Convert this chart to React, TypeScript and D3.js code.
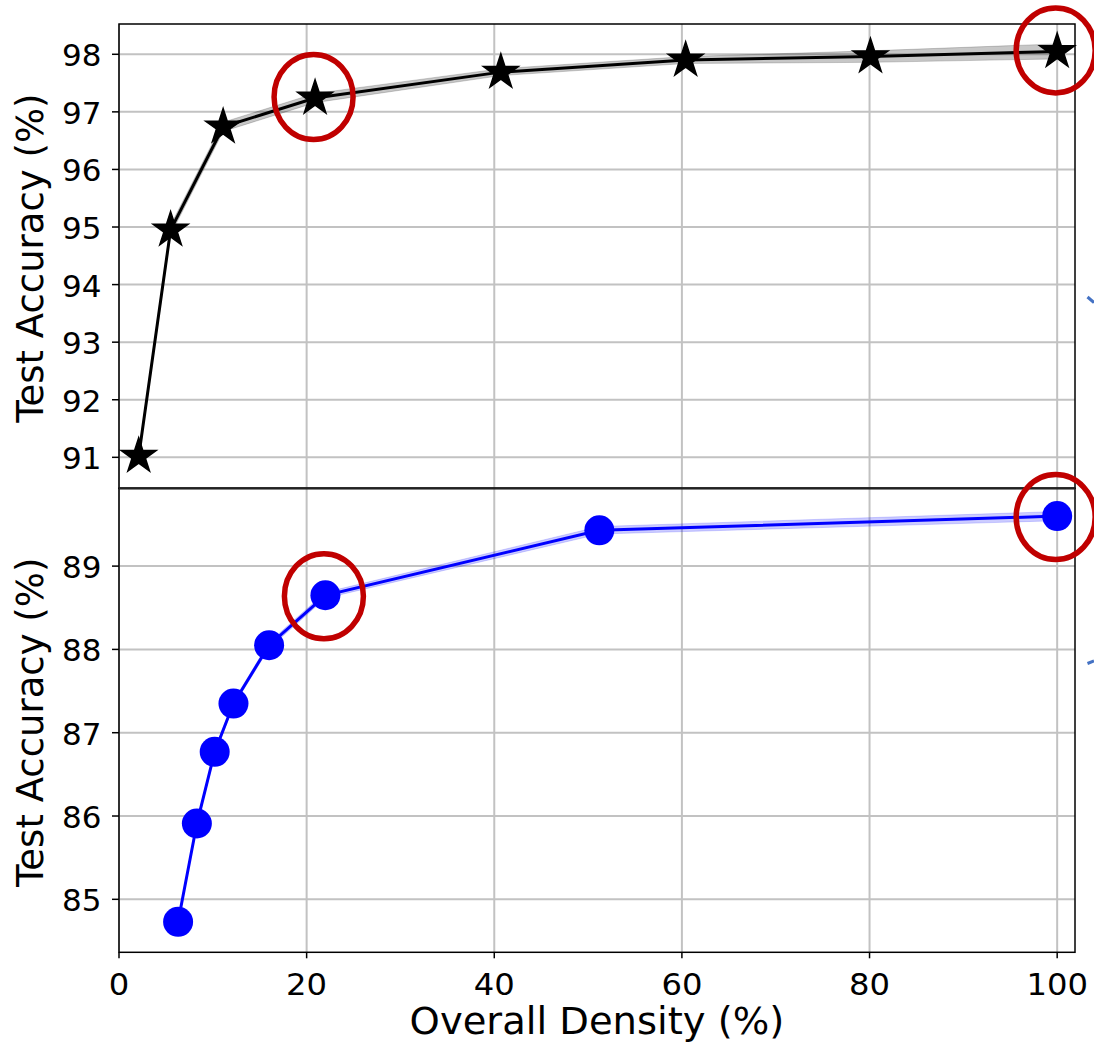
import React from "react";
import * as d3 from "d3";

// ---- data ----
const xTicks = [0, 20, 40, 60, 80, 100];
const topYTicks = [91, 92, 93, 94, 95, 96, 97, 98];
const bottomYTicks = [85, 86, 87, 88, 89];

const topDensity = [2.1, 5.5, 11.1, 20.9, 40.7, 60.4, 80.1, 100];
const topAcc = [91.02, 94.95, 96.74, 97.24, 97.69, 97.9, 97.96, 98.05];
const topStd = [0.05, 0.08, 0.08, 0.08, 0.06, 0.06, 0.1, 0.13];
const topHighlight = [3, 7];

const botDensity = [6.3, 8.3, 10.2, 12.2, 16.0, 22.0, 51.2, 100];
const botAcc = [84.73, 85.91, 86.77, 87.35, 88.05, 88.65, 89.43, 89.6];
const botStd = [0.025, 0.025, 0.03, 0.03, 0.035, 0.035, 0.045, 0.055];
const botHighlight = [5, 7];

const yLabel = "Test Accuracy (%)";
const xLabel = "Overall Density (%)";

// ---- layout ----
const W = 1094;
const H = 1044;
const L = 119;
const R = 1075;
const T1 = 24;
const MID = 488.3;
const B2 = 952.3;
const FONT = "DejaVu Sans, sans-serif";
const TICK_FS = 31;
const LABEL_FS = 37;

const x = d3.scaleLinear().domain([0, 101.9]).range([L, R]);
const yTop = d3.scaleLinear().domain([90.462, 98.526]).range([MID, T1]);
const yBot = d3.scaleLinear().domain([84.364, 89.934]).range([B2, MID]);

function Panel({ xs, ys, sd, y, ticks, top, bottom, color, band, bandOpacity, marker }: any) {
  const idx = xs.map((_: number, i: number) => i);
  const line = d3.line<number>().x((i) => x(xs[i])).y((i) => y(ys[i]));
  const area = d3
    .area<number>()
    .x((i) => x(xs[i]))
    .y0((i) => y(ys[i] - sd[i]))
    .y1((i) => y(ys[i] + sd[i]));
  const star = d3.symbol(d3.symbolStar, 380)();
  return (
    <g>
      {ticks.map((t: number) => (
        <line key={"gy" + t} x1={L} x2={R} y1={y(t)} y2={y(t)} stroke="#c2c2c2" strokeWidth={2} />
      ))}
      {xTicks.map((t) => (
        <line key={"gx" + t} x1={x(t)} x2={x(t)} y1={top} y2={bottom} stroke="#c2c2c2" strokeWidth={2} />
      ))}
      <path d={area(idx) || ""} fill={band} fillOpacity={bandOpacity} stroke={band} strokeOpacity={bandOpacity * 0.8} strokeWidth={1} />
      <path d={line(idx) || ""} fill="none" stroke={color} strokeWidth={3} />
      {idx.map((i: number) =>
        marker === "star" ? (
          <path
            key={"m" + i}
            d={star || ""}
            transform={`translate(${x(xs[i])},${y(ys[i])})`}
            fill={color}
            stroke={color}
            strokeWidth={1.5}
            strokeLinejoin="miter"
          />
        ) : (
          <circle key={"m" + i} cx={x(xs[i])} cy={y(ys[i])} r={15} fill={color} />
        )
      )}
      {ticks.map((t: number) => (
        <g key={"ty" + t}>
          <line x1={L - 7} x2={L} y1={y(t)} y2={y(t)} stroke="#000" strokeWidth={1.5} />
          <text x={101.5} y={y(t)} dy={12} textAnchor="end" fontSize={TICK_FS} fontFamily={FONT} fill="#000">
            {t}
          </text>
        </g>
      ))}
      <text
        transform={`translate(43,${(top + bottom) / 2 + 2}) rotate(-90)`}
        textAnchor="middle"
        fontSize={LABEL_FS}
        fontFamily={FONT}
        fill="#000"
      >
        {yLabel}
      </text>
    </g>
  );
}

export default function App() {
  return (
    <div style={{ position: "absolute", left: 0, top: 0 }}>
      <svg width={W} height={H} style={{ display: "block", background: "#fff" }}>
        <rect x={0} y={0} width={W} height={H} fill="#fff" />
        <Panel
          xs={topDensity} ys={topAcc} sd={topStd} y={yTop} ticks={topYTicks}
          top={T1} bottom={MID} color="#000" band="#000" bandOpacity={0.22} marker="star"
        />
        <Panel
          xs={botDensity} ys={botAcc} sd={botStd} y={yBot} ticks={bottomYTicks}
          top={MID} bottom={B2} color="#0000ff" band="#0000ff" bandOpacity={0.2} marker="circle"
        />
        {/* spines */}
        <rect x={L} y={T1} width={R - L} height={MID - T1} fill="none" stroke="#000" strokeWidth={1.5} />
        <rect x={L} y={MID} width={R - L} height={B2 - MID} fill="none" stroke="#000" strokeWidth={1.5} />
        <line x1={L} x2={R} y1={MID} y2={MID} stroke="#222" strokeWidth={2.2} />
        {/* x ticks */}
        {xTicks.map((t) => (
          <g key={"tx" + t}>
            <line x1={x(t)} x2={x(t)} y1={B2} y2={B2 + 6} stroke="#000" strokeWidth={1.5} />
            <text
              x={x(t)}
              y={995}
              textAnchor="middle"
              fontSize={TICK_FS}
              fontFamily={FONT}
              fill="#000"
              transform={`translate(${x(t)},0) scale(1.04,1) translate(${-x(t)},0)`}
            >
              {t}
            </text>
          </g>
        ))}
        <text
          x={(L + R) / 2}
          y={1034}
          textAnchor="middle"
          fontSize={LABEL_FS}
          fontFamily={FONT}
          fill="#000"
          transform={`translate(${(L + R) / 2},0) scale(1.04,1) translate(${-(L + R) / 2},0)`}
        >
          {xLabel}
        </text>
        {/* highlight circles */}
        {topHighlight.map((i) => (
          <ellipse key={"ht" + i} cx={x(topDensity[i]) - 1.5} cy={yTop(topAcc[i]) - 1} rx={39.5} ry={42.5} fill="none" stroke="#c00000" strokeWidth={5.5} />
        ))}
        {botHighlight.map((i) => (
          <ellipse key={"hb" + i} cx={x(botDensity[i]) - 1.5} cy={yBot(botAcc[i]) + 1} rx={39.5} ry={42.5} fill="none" stroke="#c00000" strokeWidth={5.5} />
        ))}
        {/* cut-off arrow fragments at right edge */}
        <line x1={1087.5} y1={297} x2={1094} y2={302.5} stroke="#4472c4" strokeWidth={3} />
        <line x1={1087.5} y1={663.5} x2={1094} y2={661} stroke="#4472c4" strokeWidth={3} />
      </svg>
    </div>
  );
}
